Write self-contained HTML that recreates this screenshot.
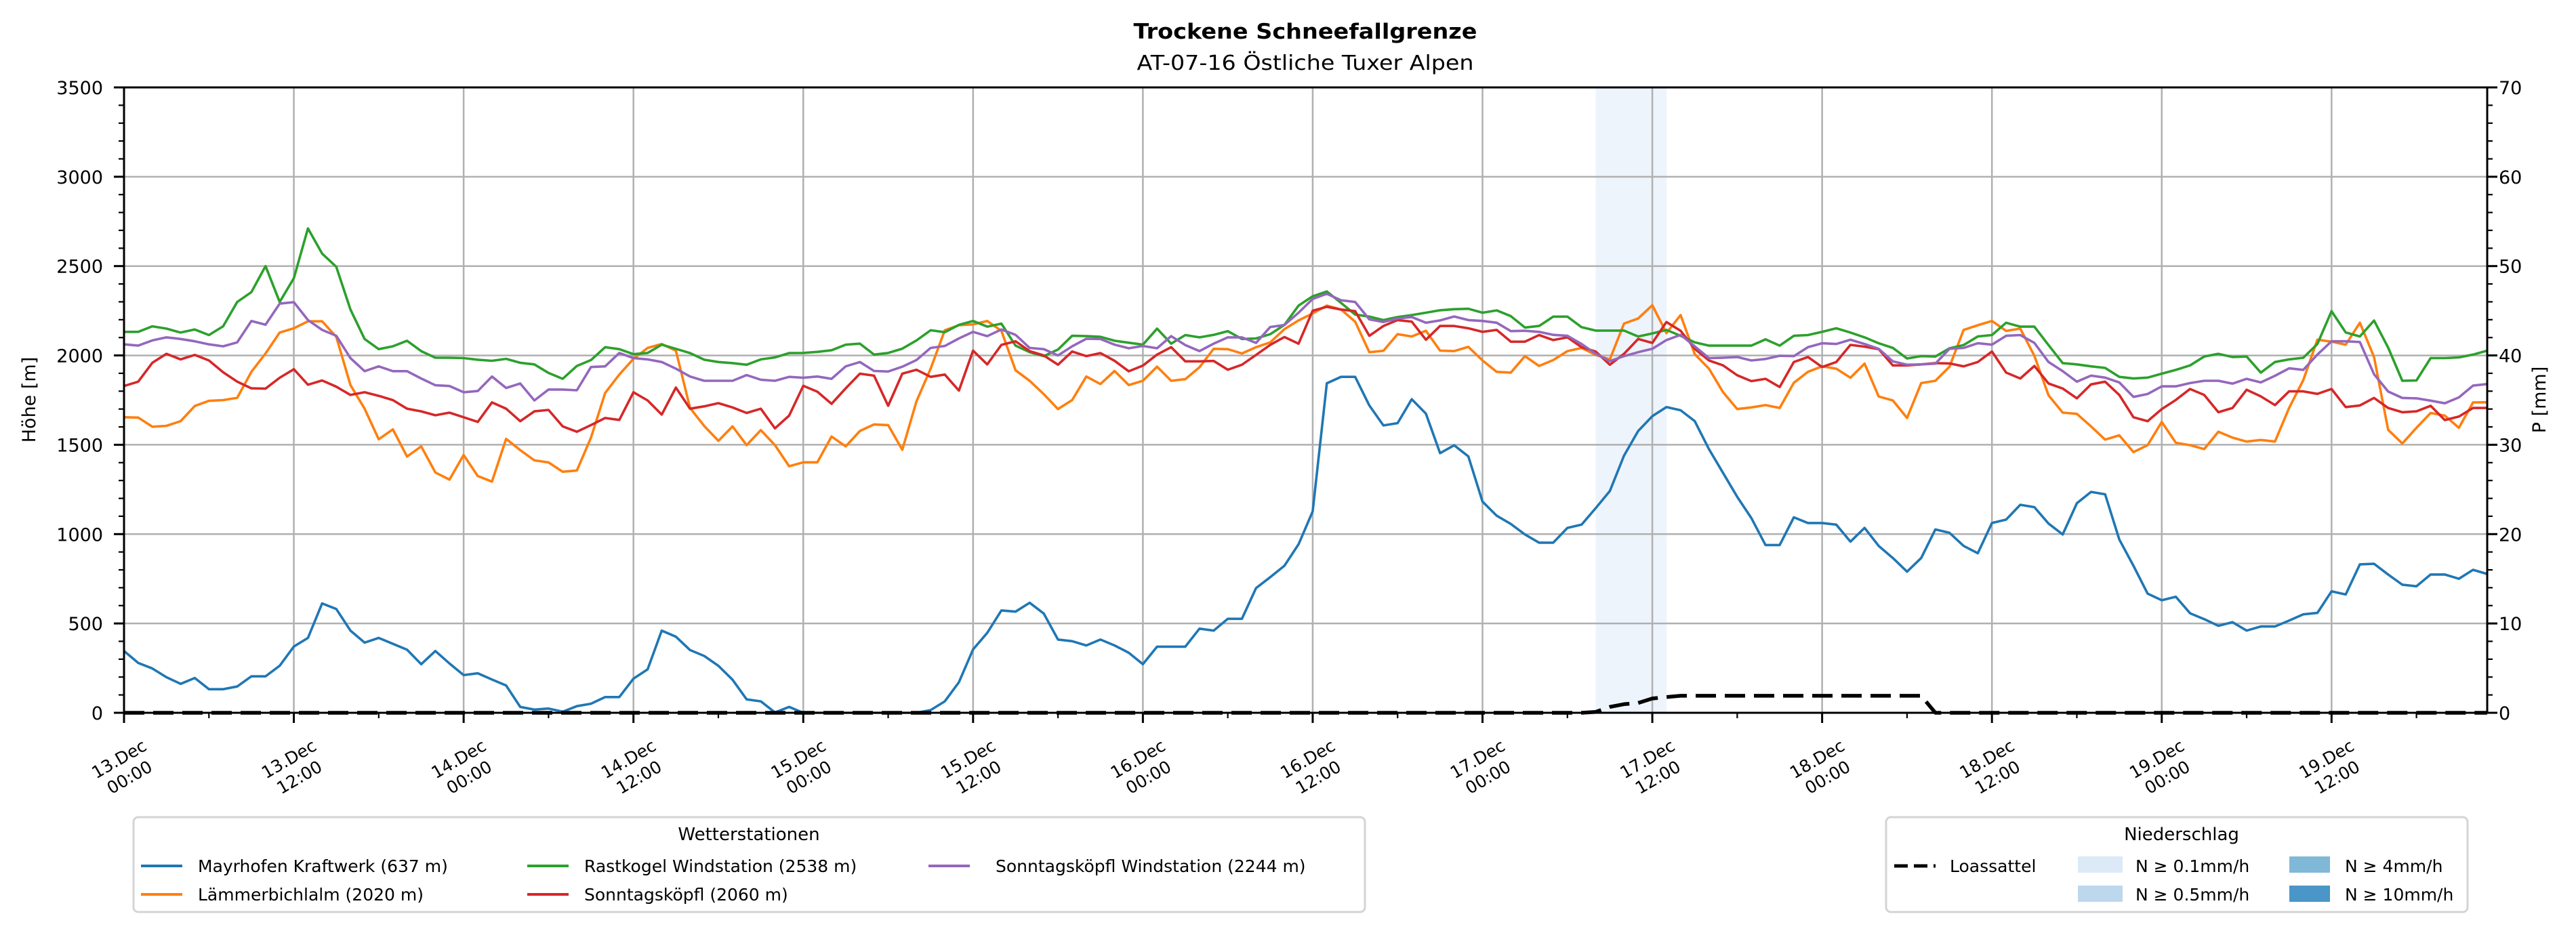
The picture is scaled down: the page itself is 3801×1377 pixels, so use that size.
<!DOCTYPE html>
<html><head><meta charset="utf-8"><title>Trockene Schneefallgrenze</title>
<style>
html,body{margin:0;padding:0;background:#fff;}
svg{display:block;font-family:"DejaVu Sans","Liberation Sans",sans-serif;}
</style></head>
<body>
<svg id="chart" width="3801" height="1377" viewBox="0 0 3801 1377" xmlns="http://www.w3.org/2000/svg">
<rect x="0" y="0" width="3801" height="1377" fill="#fff"/>
<text x="1926" y="57" text-anchor="middle" font-size="31" font-weight="bold" textLength="507" lengthAdjust="spacingAndGlyphs">Trockene Schneefallgrenze</text>
<text x="1926" y="103" text-anchor="middle" font-size="30" textLength="497" lengthAdjust="spacingAndGlyphs">AT-07-16 Östliche Tuxer Alpen</text>
<g id="shade"></g>
<g id="grid"></g>
<g id="series"></g>
<g id="axes"></g>
<text transform="translate(52,590) rotate(-90)" text-anchor="middle" font-size="27">Höhe [m]</text>
<text transform="translate(3756,590) rotate(-90)" text-anchor="middle" font-size="27">P [mm]</text>

<g>
<rect x="197" y="1206" width="1817" height="140" rx="7" fill="#fff" stroke="#d4d4d4" stroke-width="3"/>
<text x="1105" y="1240" text-anchor="middle" font-size="26">Wetterstationen</text>
<g><line x1="208" y1="1278" x2="269" y2="1278" stroke="#1f77b4" stroke-width="4"/><text x="292" y="1287" font-size="25">Mayrhofen Kraftwerk (637 m)</text></g>
<g><line x1="208" y1="1320" x2="269" y2="1320" stroke="#ff7f0e" stroke-width="4"/><text x="292" y="1329" font-size="25">Lämmerbichlalm (2020 m)</text></g>
<g><line x1="778" y1="1278" x2="839" y2="1278" stroke="#2ca02c" stroke-width="4"/><text x="862" y="1287" font-size="25">Rastkogel Windstation (2538 m)</text></g>
<g><line x1="778" y1="1320" x2="839" y2="1320" stroke="#d62728" stroke-width="4"/><text x="862" y="1329" font-size="25">Sonntagsköpfl (2060 m)</text></g>
<g><line x1="1370" y1="1278" x2="1431" y2="1278" stroke="#9467bd" stroke-width="4"/><text x="1469" y="1287" font-size="25">Sonntagsköpfl Windstation (2244 m)</text></g>
</g>

<g>
<rect x="2783" y="1206" width="858" height="140" rx="7" fill="#fff" stroke="#d4d4d4" stroke-width="3"/>
<text x="3219" y="1240" text-anchor="middle" font-size="26">Niederschlag</text>
<g><line x1="2795" y1="1278" x2="2856" y2="1278" stroke="#000" stroke-width="5" stroke-dasharray="20,9"/><text x="2877" y="1287" font-size="25">Loassattel</text></g>
<g><rect x="3066" y="1264" width="66" height="24" fill="#dce9f6"/><text x="3151" y="1287" font-size="25">N ≥ 0.1mm/h</text></g>
<g><rect x="3066" y="1307" width="66" height="24" fill="#bdd7ec"/><text x="3151" y="1329" font-size="25">N ≥ 0.5mm/h</text></g>
<g><rect x="3378" y="1264" width="60" height="24" fill="#80b8d8"/><text x="3460" y="1287" font-size="25">N ≥ 4mm/h</text></g>
<g><rect x="3378" y="1307" width="60" height="24" fill="#4a96c8"/><text x="3460" y="1329" font-size="25">N ≥ 10mm/h</text></g>
</g>
</svg>
<script>
const mayrhofen=[346,279,248,199,162,195,132,132,147,204,204,263,371,419,612,581,460,393,419,386,353,272,346,276,211,221,186,153,33,18,24,6,37,51,88,88,191,243,460,426,351,318,263,185,75,64,2,33,0,0,0,0,0,0,0,0,0,15,64,171,355,447,573,566,616,555,410,401,377,410,377,336,272,370,370,370,471,460,526,526,698,759,823,943,1127,1844,1880,1880,1720,1608,1621,1755,1674,1453,1497,1435,1182,1103,1057,998,952,952,1035,1053,1145,1241,1439,1577,1660,1711,1693,1632,1476,1342,1209,1090,939,939,1094,1062,1062,1053,958,1035,934,866,790,866,1026,1007,934,893,1062,1081,1164,1151,1059,998,1173,1236,1223,970,823,667,630,649,557,524,487,507,460,483,483,516,551,559,680,662,831,834,774,717,708,774,774,750,800,777];
const laemmer=[1654,1652,1601,1606,1632,1717,1746,1750,1763,1908,2011,2128,2152,2191,2191,2104,1834,1702,1531,1586,1434,1491,1345,1305,1443,1325,1294,1533,1470,1413,1401,1349,1356,1540,1790,1893,1981,2042,2064,2027,1706,1605,1522,1603,1498,1582,1498,1380,1402,1402,1546,1491,1577,1614,1610,1472,1743,1926,2141,2169,2174,2193,2137,1917,1858,1783,1700,1750,1882,1840,1913,1834,1858,1937,1858,1867,1934,2037,2035,2011,2046,2073,2147,2196,2235,2279,2257,2189,2018,2026,2119,2106,2138,2027,2024,2048,1972,1908,1904,1996,1941,1974,2024,2042,2003,1978,2178,2207,2281,2125,2226,2007,1926,1794,1700,1709,1722,1706,1847,1908,1939,1926,1875,1954,1770,1748,1650,1845,1858,1937,2143,2169,2193,2137,2150,1998,1777,1680,1673,1603,1529,1553,1459,1498,1628,1511,1498,1476,1573,1540,1518,1527,1518,1706,1862,2088,2077,2060,2183,1991,1584,1507,1595,1678,1663,1595,1737,1738];
const rastkogel=[2132,2132,2163,2150,2128,2145,2114,2163,2299,2354,2500,2299,2432,2711,2570,2496,2257,2092,2035,2051,2082,2024,1987,1987,1985,1976,1970,1981,1959,1950,1902,1869,1941,1974,2046,2035,2007,2014,2060,2037,2013,1976,1963,1957,1948,1978,1989,2013,2014,2020,2029,2060,2066,2005,2014,2038,2084,2141,2130,2171,2193,2161,2178,2055,2018,1996,2033,2110,2108,2104,2082,2071,2060,2150,2066,2114,2101,2115,2136,2092,2095,2119,2171,2279,2331,2358,2294,2229,2217,2198,2215,2226,2239,2253,2259,2261,2239,2252,2220,2156,2165,2217,2217,2158,2139,2139,2139,2106,2123,2143,2110,2073,2055,2055,2055,2055,2090,2055,2110,2114,2132,2152,2128,2101,2068,2042,1983,1996,1994,2040,2058,2106,2114,2183,2161,2161,2058,1957,1950,1939,1930,1880,1871,1876,1898,1919,1944,1994,2009,1991,1994,1904,1963,1978,1987,2064,2248,2129,2106,2195,2044,1858,1860,1985,1985,1989,2005,2027];
const sonntag=[1829,1853,1959,2009,1978,2003,1972,1906,1853,1816,1814,1875,1923,1836,1860,1825,1779,1794,1774,1750,1702,1687,1665,1680,1654,1628,1737,1702,1632,1687,1695,1603,1573,1610,1650,1639,1794,1748,1669,1820,1702,1715,1733,1709,1678,1702,1592,1663,1830,1797,1729,1816,1898,1887,1718,1898,1920,1880,1893,1803,2027,1950,2059,2079,2024,2000,1948,2022,1996,2013,1970,1911,1943,2005,2046,1967,1967,1969,1920,1948,2003,2059,2103,2066,2250,2272,2257,2248,2110,2165,2198,2189,2088,2165,2165,2152,2132,2143,2077,2077,2114,2086,2101,2046,2022,1948,2009,2092,2070,2187,2138,2037,1972,1944,1889,1856,1869,1823,1963,1991,1935,1963,2059,2049,2035,1944,1944,1950,1957,1955,1939,1963,2022,1904,1871,1941,1843,1815,1760,1838,1853,1779,1654,1632,1700,1751,1812,1779,1682,1706,1808,1771,1722,1799,1799,1785,1812,1711,1720,1762,1706,1682,1687,1718,1638,1658,1706,1706];
const sonntagWind=[2062,2055,2084,2101,2092,2079,2062,2051,2073,2193,2172,2290,2298,2198,2143,2110,1985,1912,1939,1912,1912,1871,1833,1829,1794,1801,1882,1818,1843,1748,1809,1809,1805,1935,1939,2014,1985,1978,1963,1926,1882,1858,1858,1858,1890,1864,1858,1880,1875,1882,1869,1939,1963,1913,1910,1937,1974,2042,2053,2095,2132,2108,2145,2115,2042,2035,2000,2051,2093,2092,2060,2040,2053,2040,2108,2058,2024,2066,2101,2101,2070,2159,2170,2239,2316,2345,2309,2299,2202,2187,2207,2215,2183,2196,2218,2198,2193,2183,2136,2138,2132,2115,2110,2064,2009,1968,1996,2018,2037,2086,2115,2051,1985,1987,1991,1972,1980,1998,1996,2046,2068,2064,2088,2064,2037,1967,1948,1950,1954,2037,2042,2068,2060,2110,2114,2070,1963,1912,1853,1887,1876,1849,1768,1784,1827,1827,1845,1858,1858,1842,1869,1849,1886,1928,1919,2005,2079,2079,2075,1895,1798,1762,1760,1747,1732,1765,1831,1840];
const loassattel=[0,0,0,0,0,0,0,0,0,0,0,0,0,0,0,0,0,0,0,0,0,0,0,0,0,0,0,0,0,0,0,0,0,0,0,0,0,0,0,0,0,0,0,0,0,0,0,0,0,0,0,0,0,0,0,0,0,0,0,0,0,0,0,0,0,0,0,0,0,0,0,0,0,0,0,0,0,0,0,0,0,0,0,0,0,0,0,0,0,0,0,0,0,0,0,0,0,0,0,0,0,0,0,0,0.1,0.66,0.96,1.1,1.6,1.76,1.9,1.9,1.9,1.9,1.9,1.9,1.9,1.9,1.9,1.9,1.9,1.9,1.9,1.9,1.9,1.9,1.9,1.9,0,0,0,0,0,0,0,0,0,0,0,0,0,0,0,0,0,0,0,0,0,0,0,0,0,0,0,0,0,0,0,0,0,0,0,0,0,0,0,0];
const shadeHours=[104,109];
const xTickHours=[0,12,24,36,48,60,72,84,96,108,120,132,144,156];
const xTickDay=["13.Dec","13.Dec","14.Dec","14.Dec","15.Dec","15.Dec","16.Dec","16.Dec","17.Dec","17.Dec","18.Dec","18.Dec","19.Dec","19.Dec"];
const xTickTime=["00:00","12:00","00:00","12:00","00:00","12:00","00:00","12:00","00:00","12:00","00:00","12:00","00:00","12:00"];
const yTicks=[0,500,1000,1500,2000,2500,3000,3500];
const y2Ticks=[0,10,20,30,40,50,60,70];

const NS="http://www.w3.org/2000/svg";
const L=183,R=3670,T=129,B=1052,HMAX=167;
function xs(h){return L+h*(R-L)/HMAX;}
function yl(v){return B-v*(B-T)/3500;}
function yr(p){return B-p*(B-T)/70;}
function mk(tag,attrs,parent){const e=document.createElementNS(NS,tag);for(const k in attrs)e.setAttribute(k,attrs[k]);parent.appendChild(e);return e;}

const shade=document.getElementById('shade');
const sr=mk('rect',{x:xs(shadeHours[0]),y:T,width:xs(shadeHours[1])-xs(shadeHours[0]),height:B-T,fill:'#eef4fb'},shade);



const grid=document.getElementById('grid');
xTickHours.forEach(h=>{const g=mk('line',{x1:xs(h),y1:T,x2:xs(h),y2:B,stroke:'#b0b0b0','stroke-width':2.5},grid);

});
yTicks.forEach(v=>{const g=mk('line',{x1:L,y1:yl(v),x2:R,y2:yl(v),stroke:'#b0b0b0','stroke-width':2.5},grid);

});

const series=document.getElementById('series');
function drawLine(arr,color,name,yfn,dash){
  const pts=arr.map((v,i)=>xs(i).toFixed(1)+','+yfn(v).toFixed(1)).join(' ');
  const p=mk('polyline',{points:pts,fill:'none',stroke:color,'stroke-width':dash?5.5:3.6,'stroke-linejoin':'round'},series);
  if(dash)p.setAttribute('stroke-dasharray','30,13');
  
  
}
drawLine(mayrhofen,'#1f77b4','line-mayrhofen',yl);
drawLine(laemmer,'#ff7f0e','line-laemmerbichlalm',yl);
drawLine(rastkogel,'#2ca02c','line-rastkogel',yl);
drawLine(sonntag,'#d62728','line-sonntagskoepfl',yl);
drawLine(sonntagWind,'#9467bd','line-sonntagskoepfl-wind',yl);
drawLine(loassattel,'#000','line-loassattel',yr,true);

const axes=document.getElementById('axes');
const frame=mk('rect',{x:L,y:T,width:R-L,height:B-T,fill:'none',stroke:'#000','stroke-width':3},axes);


for(let v=0;v<=3500;v+=100){const maj=v%500===0;mk('line',{x1:L-(maj?15:8),y1:yl(v),x2:L,y2:yl(v),stroke:'#000','stroke-width':maj?3:2.2},axes);}
yTicks.forEach(v=>{const t=mk('text',{x:152,y:yl(v)+10,'text-anchor':'end','font-size':27},axes);t.textContent=v;

});
for(let p=0;p<=70;p+=2){const maj=p%10===0;mk('line',{x1:R,y1:yr(p),x2:R+(maj?15:8),y2:yr(p),stroke:'#000','stroke-width':maj?3:2.2},axes);}
y2Ticks.forEach(p=>{const t=mk('text',{x:3687,y:yr(p)+10,'text-anchor':'start','font-size':27},axes);t.textContent=p;

});
for(let h=0;h<=HMAX;h+=6){const maj=h%12===0;mk('line',{x1:xs(h),y1:B,x2:xs(h),y2:B+(maj?15:8),stroke:'#000','stroke-width':maj?3:2.2},axes);}
xTickHours.forEach((h,i)=>{
  const g=mk('g',{transform:'translate('+xs(h).toFixed(1)+',1133) rotate(-30)'},axes);
  
  
  const t1=mk('text',{x:0,y:-6,'text-anchor':'middle','font-size':25},g);t1.textContent=xTickDay[i];
  const t2=mk('text',{x:0,y:25,'text-anchor':'middle','font-size':25},g);t2.textContent=xTickTime[i];
});
</script>
</body></html>
